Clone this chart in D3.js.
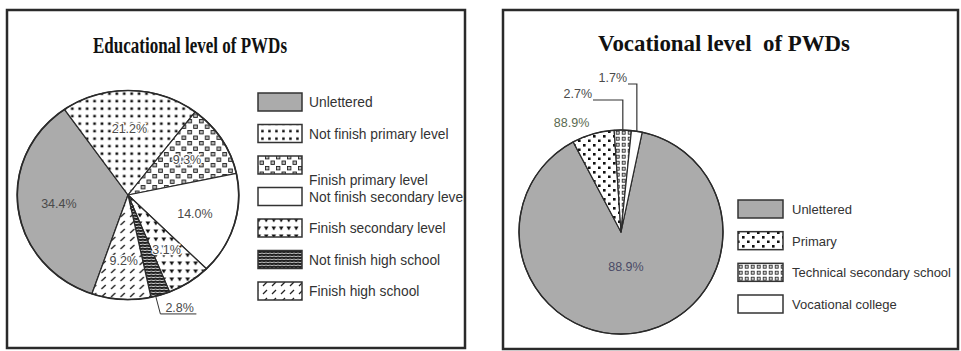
<!DOCTYPE html>
<html>
<head>
<meta charset="utf-8">
<script src="https://cdn.jsdelivr.net/npm/d3@7"></script>
<style>
  html, body { margin: 0; padding: 0; background: #fff; }
  svg { display: block; }
</style>
</head>
<body>
<svg id="chart" width="961" height="351"></svg>
<script>
// ---------- DATA ----------
const eduTitle = "Educational level of PWDs";
const eduCategories = ["Unlettered", "Not finish primary level", "Finish primary level",
  "Not finish secondary level", "Finish secondary level", "Not finish high school", "Finish high school"];
// slice shares as drawn in the picture (percent of circle)
const eduShare = [35.0, 20.1, 11.3, 15.8, 6.4, 2.8, 8.6];
const eduLabels = ["34.4%", "21.2%", "9.3%", "14.0%", "3.1%", "2.8%", "9.2%"];

const vocTitle = "Vocational level\u00a0 of PWDs";
const vocCategories = ["Unlettered", "Primary", "Technical secondary school", "Vocational college"];
const vocValues = [88.9, 6.7, 2.7, 1.7];
const vocLabels = ["88.9%", "88.9%", "2.7%", "1.7%"];

// ---------- DRAWING ----------
const svg = d3.select("#chart");
const defs = svg.append("defs");
const INK = "#2a2a2a";

function pattern(id, w, h, draw) {
  const p = defs.append("pattern").attr("id", id).attr("patternUnits", "userSpaceOnUse")
    .attr("width", w).attr("height", h);
  p.append("rect").attr("width", w).attr("height", h).attr("fill", "#fff");
  draw(p);
}
pattern("dots", 7, 7.5, p => p.append("rect").attr("x", 2.2).attr("y", 2.4).attr("width", 2.5).attr("height", 2.5).attr("fill", "#111"));
pattern("squares", 11, 11, p => {
  [[1.5, 1.5], [7, 7]].forEach(([x, y]) => p.append("rect").attr("x", x).attr("y", y)
    .attr("width", 3.4).attr("height", 3.4).attr("fill", "#bbb").attr("stroke", "#222").attr("stroke-width", 0.9));
});
pattern("tri", 7.5, 8, p => p.append("path").attr("d", "M1.5,2.5 L6,2.5 L3.75,6.5 Z").attr("fill", "#111"));
pattern("dense", 4, 3, p => {
  p.append("rect").attr("width", 4).attr("height", 3).attr("fill", "#222");
  p.append("path").attr("d", "M0,1.6 L2,1.1 L4,1.6").attr("stroke", "#ddd").attr("stroke-width", 0.8).attr("fill", "none");
});
pattern("slash", 9, 8, p => p.append("line").attr("x1", 2).attr("y1", 6).attr("x2", 6).attr("y2", 2)
  .attr("stroke", "#222").attr("stroke-width", 1.3));
pattern("dots2", 10, 9, p => {
  [[2, 2], [7, 6.5]].forEach(([x, y]) => p.append("rect").attr("x", x).attr("y", y)
    .attr("width", 2.6).attr("height", 2.6).attr("fill", "#111"));
});
pattern("squares2", 6, 6, p => p.append("rect").attr("x", 1.2).attr("y", 1.2).attr("width", 3).attr("height", 3)
  .attr("fill", "#ccc").attr("stroke", "#222").attr("stroke-width", 0.8));

defs.append("clipPath").attr("id", "clipL").append("rect")
  .attr("x", 7).attr("y", 10).attr("width", 458).attr("height", 338);

const eduFills = d3.scaleOrdinal().domain(eduCategories)
  .range(["#ababab", "url(#dots)", "url(#squares)", "#fff", "url(#tri)", "url(#dense)", "url(#slash)"]);
const vocFills = d3.scaleOrdinal().domain(vocCategories)
  .range(["#ababab", "url(#dots2)", "url(#squares2)", "#fff"]);

// titles
svg.append("text").attr("x", 190).attr("y", 53).attr("text-anchor", "middle")
  .attr("font-family", "'Liberation Serif', 'Times New Roman', serif").attr("font-weight", "bold")
  .attr("font-size", 23).attr("textLength", 194).attr("lengthAdjust", "spacingAndGlyphs")
  .attr("fill", "#111").text(eduTitle);
svg.append("text").attr("x", 724).attr("y", 51).attr("text-anchor", "middle")
  .attr("font-family", "'Liberation Serif', 'Times New Roman', serif").attr("font-weight", "bold")
  .attr("font-size", 24).attr("textLength", 252).attr("lengthAdjust", "spacingAndGlyphs")
  .attr("fill", "#111").text(vocTitle);

const deg = Math.PI / 180;
const labelFont = "'Liberation Sans', Arial, sans-serif";
const LBL = 12.5;

// ----- left pie -----
const L = { cx: 128, cy: 195, r: 104.5, sx: 1.06 };
const eduPie = d3.pie().sort(null).value(d => d)
  .startAngle(199 * deg).endAngle(199 * deg + 2 * Math.PI);
const eduArcs = eduPie(eduShare);
const arcL = d3.arc().innerRadius(0).outerRadius(L.r);
const gL = svg.append("g").attr("transform", `translate(${L.cx},${L.cy}) scale(${L.sx},1)`);
gL.selectAll("path").data(eduArcs).join("path")
  .attr("d", arcL).attr("fill", (d, i) => eduFills(eduCategories[i]))
  .attr("stroke", INK).attr("stroke-width", 1.2).attr("stroke-linejoin", "round");
gL.append("circle").attr("r", L.r).attr("fill", "none").attr("stroke", INK).attr("stroke-width", 1.6);

const labArcL = d3.arc().innerRadius(L.r * 0.63).outerRadius(L.r * 0.63);
eduArcs.forEach((d, i) => {
  if (i === 5) return;
  const [x, y] = labArcL.centroid(d);
  const px = L.cx + x * L.sx, py = L.cy + y;
  const t = svg.append("text").attr("x", px).attr("y", py + 4).attr("text-anchor", "middle")
    .attr("font-family", labelFont).attr("font-size", LBL).attr("fill", "#4a4a4a").text(eduLabels[i]);
  if (i !== 0 && i !== 3) t.attr("stroke", "#fff").attr("stroke-width", 2.5).attr("paint-order", "stroke");
});
{
  const d = eduArcs[5];
  const a = (d.startAngle + d.endAngle) / 2;
  const ex = L.cx + Math.sin(a) * L.r * L.sx, ey = L.cy - Math.cos(a) * L.r;
  svg.append("path").attr("d", `M${ex - 5},${ey} L${ex},${ey + 19} L${ex + 36},${ey + 19}`)
    .attr("fill", "none").attr("stroke", "#333").attr("stroke-width", 1);
  svg.append("text").attr("x", ex + 5).attr("y", ey + 17).attr("font-family", labelFont)
    .attr("font-size", LBL).attr("fill", "#4a4a4a").text(eduLabels[5]);
}

// left legend
const yL = d3.scalePoint().domain(eduCategories).range([93, 282]);
const legL = svg.append("g").attr("clip-path", "url(#clipL)");
eduCategories.forEach((c, i) => {
  const y = yL(c);
  legL.append("rect").attr("x", 258).attr("y", y).attr("width", 44).attr("height", 18)
    .attr("fill", eduFills(c)).attr("stroke", "#333").attr("stroke-width", 1.5);
  legL.append("text").attr("x", 309).attr("y", y + 14 + (i === 2 ? 15 : 0))
    .attr("font-family", labelFont).attr("font-size", 13.8).attr("fill", "#333").text(c);
});

// ----- right pie -----
const R = { cx: 621, cy: 232, r: 102 };
const vocPie = d3.pie().sort(null).value(d => d)
  .startAngle(12 * deg).endAngle(12 * deg + 2 * Math.PI);
const vocArcs = vocPie(vocValues);
const arcR = d3.arc().innerRadius(0).outerRadius(R.r);
const gR = svg.append("g").attr("transform", `translate(${R.cx},${R.cy})`);
gR.selectAll("path").data(vocArcs).join("path")
  .attr("d", arcR).attr("fill", (d, i) => vocFills(vocCategories[i]))
  .attr("stroke", INK).attr("stroke-width", 1.2).attr("stroke-linejoin", "round");
gR.append("circle").attr("r", R.r).attr("fill", "none").attr("stroke", INK).attr("stroke-width", 1.4);

{
  const c = d3.arc().innerRadius(R.r * 0.35).outerRadius(R.r * 0.35).centroid(vocArcs[0]);
  svg.append("text").attr("x", R.cx + c[0]).attr("y", R.cy + c[1] + 4).attr("text-anchor", "middle")
    .attr("font-family", labelFont).attr("font-size", LBL).attr("fill", "#4a4a66").text(vocLabels[0]);
}
{
  const c = d3.arc().innerRadius(R.r * 1.1).outerRadius(R.r * 1.1).centroid(vocArcs[1]);
  svg.append("text").attr("x", R.cx + c[0] - 1).attr("y", R.cy + c[1] + 3).attr("text-anchor", "end")
    .attr("font-family", labelFont).attr("font-size", LBL).attr("fill", "#5a6a50").text(vocLabels[1]);
}
[[2, 100], [3, 84]].forEach(([i, ly]) => {
  const d = vocArcs[i];
  const a = (d.startAngle + d.endAngle) / 2;
  const ex = R.cx + Math.sin(a) * R.r, ey = R.cy - Math.cos(a) * R.r;
  const tx = i === 2 ? 593 : 628;
  svg.append("path").attr("d", `M${tx},${ly} L${ex},${ly} L${ex},${ey}`)
    .attr("fill", "none").attr("stroke", "#333").attr("stroke-width", 1.2);
  svg.append("text").attr("x", tx - 1).attr("y", ly - 2).attr("text-anchor", "end")
    .attr("font-family", labelFont).attr("font-size", LBL).attr("fill", "#4a4a4a").text(vocLabels[i]);
});

// right legend
const yR = d3.scalePoint().domain(vocCategories).range([200, 295]);
const legR = svg.append("g");
vocCategories.forEach(c => {
  const y = yR(c);
  legR.append("rect").attr("x", 738).attr("y", y).attr("width", 45).attr("height", 18)
    .attr("fill", vocFills(c)).attr("stroke", "#333").attr("stroke-width", 1.5);
  legR.append("text").attr("x", 792).attr("y", y + 14)
    .attr("font-family", labelFont).attr("font-size", 13).attr("fill", "#333").text(c);
});

// panels (on top)
[[7, 10, 458, 338], [503, 10, 455, 339]].forEach(([x, y, w, h]) =>
  svg.append("rect").attr("x", x).attr("y", y).attr("width", w).attr("height", h)
    .attr("fill", "none").attr("stroke", INK).attr("stroke-width", 2.5));
</script>
</body>
</html>
